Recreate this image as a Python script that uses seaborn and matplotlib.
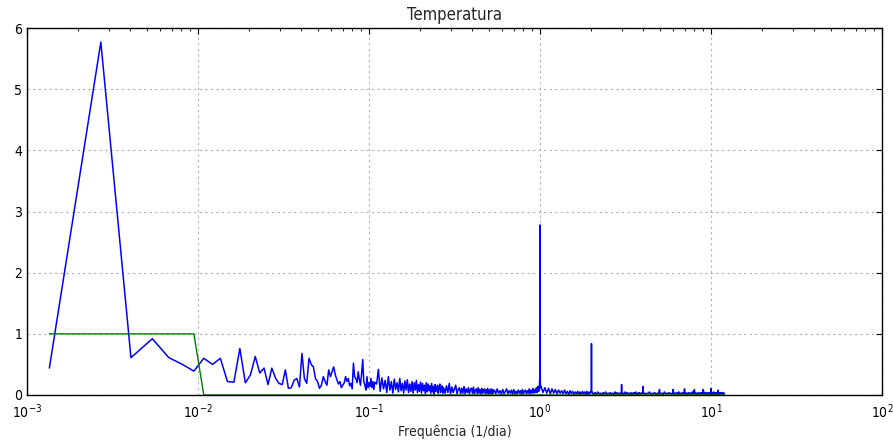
import numpy as np
import pandas as pd
import matplotlib
matplotlib.use("Agg")
import matplotlib.pyplot as plt
import seaborn as sns

# ---------------- data ----------------
DF = 1.0 / 740.0          # frequency resolution of the spectrum (1/dia)

# amplitudes for FFT bins 1..80
amp_lo = [0.44, 5.77, 0.61, 0.92, 0.61, 0.50, 0.39, 0.60, 0.50, 0.60,
          0.22, 0.21, 0.76, 0.20, 0.33, 0.63, 0.36, 0.44, 0.17, 0.44,
          0.28, 0.19, 0.17, 0.41, 0.11, 0.12, 0.24, 0.27, 0.13, 0.68,
          0.27, 0.19, 0.60, 0.50, 0.46, 0.27, 0.22, 0.11, 0.16, 0.30,
          0.22, 0.16, 0.41, 0.30, 0.38, 0.46, 0.33, 0.25, 0.18, 0.22,
          0.12, 0.16, 0.20, 0.30, 0.22, 0.27, 0.15, 0.19, 0.10, 0.52,
          0.30, 0.27, 0.20, 0.38, 0.25, 0.16, 0.35, 0.58, 0.22, 0.16,
          0.08, 0.30, 0.12, 0.20, 0.14, 0.27, 0.12, 0.22, 0.09, 0.21]

# (first bin, bin step, amplitudes) for the denser part of the spectrum
seg_a = (82, 2, [0.18, 0.42, 0.06, 0.28, 0.10, 0.24, 0.04, 0.30, 0.08, 0.22,
                 0.03, 0.26, 0.09, 0.20, 0.05, 0.27, 0.07, 0.19, 0.03, 0.23,
                 0.08, 0.25, 0.04, 0.18, 0.06, 0.22, 0.03, 0.20, 0.08, 0.24,
                 0.04, 0.17, 0.06, 0.21, 0.03, 0.19, 0.07, 0.16, 0.02, 0.20,
                 0.05, 0.18, 0.07, 0.15, 0.03, 0.19, 0.05, 0.14, 0.02, 0.17,
                 0.06, 0.09, 0.16, 0.03, 0.13, 0.18, 0.04, 0.12, 0.15, 0.03])
seg_b = (202, 4, [0.12, 0.03, 0.15, 0.04, 0.19, 0.02, 0.13, 0.04, 0.10, 0.16,
                  0.02, 0.09, 0.12, 0.02, 0.11, 0.03, 0.14, 0.02, 0.10, 0.04,
                  0.12, 0.02, 0.09, 0.11, 0.03, 0.13, 0.02, 0.08, 0.10, 0.02,
                  0.12, 0.03, 0.09, 0.02, 0.11, 0.03, 0.08, 0.10, 0.02, 0.09,
                  0.03, 0.11, 0.02, 0.08, 0.03, 0.10, 0.02, 0.09, 0.03, 0.08])
seg_c = (400, 8, [0.08, 0.02, 0.10, 0.03, 0.07, 0.01, 0.09, 0.02, 0.06, 0.10,
                  0.02, 0.07, 0.03, 0.08, 0.01, 0.09, 0.02, 0.06, 0.02, 0.08,
                  0.03, 0.07, 0.01, 0.09, 0.02, 0.06, 0.08, 0.02, 0.07, 0.03,
                  0.10, 0.02, 0.08, 0.03, 0.11, 0.03, 0.09, 0.04, 0.12, 0.04,
                  0.14, 0.06])
seg_d = (750, 20, [0.14, 0.04, 0.12, 0.03, 0.11, 0.02, 0.10, 0.03, 0.09, 0.02,
                   0.08, 0.03, 0.07, 0.02, 0.08, 0.02, 0.06, 0.01, 0.07, 0.02,
                   0.06, 0.01, 0.05, 0.02, 0.06, 0.01, 0.05, 0.01, 0.06, 0.02,
                   0.05, 0.01, 0.06, 0.01, 0.05, 0.02, 0.06])
seg_e = (1490, 30, [0.05, 0.01, 0.04, 0.01, 0.05, 0.02, 0.03, 0.01, 0.04, 0.01,
                    0.05, 0.01, 0.03, 0.02, 0.04, 0.01, 0.03, 0.01, 0.05, 0.01,
                    0.04, 0.02, 0.03, 0.01, 0.04, 0.01, 0.03, 0.01, 0.05, 0.02,
                    0.04, 0.01, 0.03, 0.01, 0.04, 0.01, 0.03, 0.02, 0.04, 0.01,
                    0.05, 0.01, 0.03, 0.01, 0.04, 0.02, 0.03, 0.01, 0.04])
seg_f = (2990, 60, [0.04, 0.01, 0.03, 0.02, 0.05, 0.01, 0.03, 0.02, 0.04, 0.01,
                    0.03, 0.01, 0.04, 0.02, 0.03, 0.01, 0.05, 0.02, 0.03, 0.01,
                    0.04, 0.02, 0.03, 0.01, 0.04, 0.01, 0.03, 0.02, 0.04, 0.01,
                    0.05, 0.02, 0.03, 0.01, 0.04, 0.02, 0.03, 0.01, 0.04, 0.01,
                    0.03, 0.02, 0.04, 0.01, 0.03, 0.02, 0.05, 0.01, 0.03, 0.02,
                    0.04, 0.01, 0.03, 0.01, 0.04, 0.02, 0.03, 0.01, 0.04, 0.02,
                    0.03, 0.01, 0.05, 0.02, 0.03, 0.01, 0.04, 0.01, 0.03, 0.02,
                    0.04, 0.01, 0.03, 0.02, 0.04, 0.01, 0.03, 0.02, 0.05, 0.01,
                    0.03, 0.01, 0.04, 0.02, 0.03, 0.01, 0.04, 0.02, 0.03, 0.01,
                    0.04, 0.01, 0.03, 0.02, 0.04, 0.01, 0.03, 0.02, 0.03])

# daily harmonic peaks
peak_bins = [734, 736, 737, 738, 739, 740, 741, 742, 743, 744, 746,
             1476, 1478, 1479, 1480, 1481, 1482, 1484,
             2218, 2220, 2222, 2958, 2960, 2962,
             3700, 4440, 5180, 5920, 6660, 7400, 8140]
peak_amps = [0.12, 0.20, 0.25, 0.30, 0.54, 2.78, 0.50, 0.28, 0.22, 0.16, 0.12,
             0.05, 0.08, 0.12, 0.84, 0.10, 0.07, 0.05,
             0.04, 0.17, 0.04, 0.03, 0.14, 0.03,
             0.09, 0.09, 0.10, 0.09, 0.09, 0.11, 0.08]

# low-pass filter response
filt_bins = [1, 7, 8, 8880]
filt_vals = [1.0, 1.0, 0.0, 0.0]

# ---------------- assemble ----------------
bins = list(range(1, len(amp_lo) + 1))
amps = list(amp_lo)
for start, step, vals in (seg_a, seg_b, seg_c, seg_d, seg_e, seg_f):
    bins += [start + step * i for i in range(len(vals))]
    amps += list(vals)
bins += peak_bins
amps += peak_amps
spec = pd.DataFrame({"freq": np.array(bins) * DF, "amp": amps}).sort_values("freq")
filt = pd.DataFrame({"freq": np.array(filt_bins) * DF, "amp": filt_vals})

# ---------------- plot ----------------
sns.set_style("white")
plt.rcParams["font.family"] = ["DejaVu Sans"]
plt.rcParams["font.stretch"] = "condensed"
plt.rcParams["mathtext.fontset"] = "dejavusans"

fig = plt.figure(figsize=(8.93, 4.41), dpi=100)
ax = fig.add_axes([27 / 893, 1 - 395 / 441, (882 - 27) / 893, (395 - 28) / 441])

sns.lineplot(data=spec, x="freq", y="amp", color="#0000ff", linewidth=1.1,
             estimator=None, sort=False, ax=ax)
sns.lineplot(data=filt, x="freq", y="amp", color="#008000", linewidth=1.0,
             estimator=None, sort=False, ax=ax)

ax.set_xscale("log")
ax.set_xlim(1e-3, 1e2)
ax.set_ylim(0, 6)
ax.set_yticks([0, 1, 2, 3, 4, 5, 6])
ax.grid(True, which="major", color="#b0b0b0", linestyle=(0, (2, 3)), linewidth=0.8)
ax.grid(False, which="minor")
ax.tick_params(which="both", direction="in", top=True, right=True,
               colors="black", labelsize=10)
ax.tick_params(which="major", length=4, width=0.8)
ax.tick_params(which="minor", length=2, width=0.6)
ax.tick_params(axis="x", which="major", pad=5)
for s in ax.spines.values():
    s.set_color("black")
    s.set_linewidth(1.0)

ax.set_title("Temperatura", fontsize=12)
ax.set_xlabel("Frequência (1/dia)", fontsize=10, labelpad=3)
ax.set_ylabel("")

fig.savefig("out.png", dpi=100)
